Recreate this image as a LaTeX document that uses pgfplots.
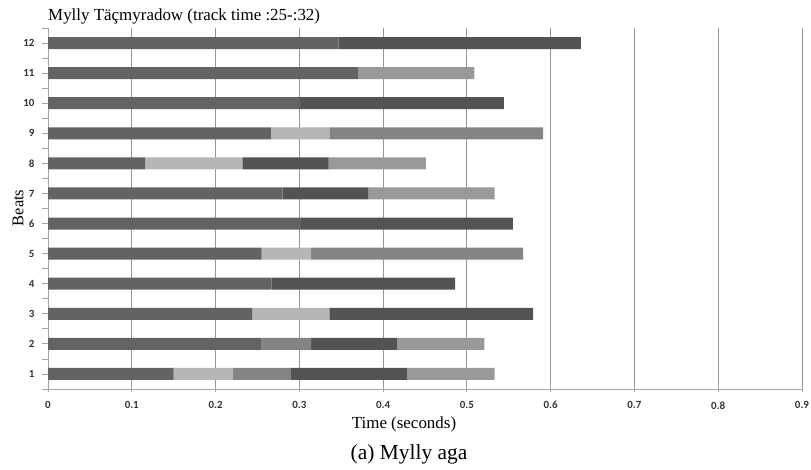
\documentclass[border=0pt]{standalone}
\usepackage{pgfplots}
\pgfplotsset{compat=1.18}
\usepackage{fontspec}
\setmainfont{Liberation Serif}
\newfontfamily\tickfont{Carlito}
\definecolor{sA}{RGB}{98,100,99}
\definecolor{sB}{RGB}{181,182,181}
\definecolor{sC}{RGB}{131,132,131}
\definecolor{sD}{RGB}{82,84,83}
\definecolor{sE}{RGB}{152,153,152}
\definecolor{gridc}{RGB}{150,150,150}
\definecolor{axc}{RGB}{165,165,165}
\begin{document}
\begin{tikzpicture}[x=1bp,y=1bp]
\path[use as bounding box] (0,0) rectangle (811,470);
\begin{axis}[
  at={(48bp,81bp)}, anchor=south west,
  scale only axis, width=754bp, height=361bp,
  xbar stacked, bar width=12bp,
  xmin=0, xmax=0.9, ymin=0.5, ymax=12.5,
  axis x line*=bottom, axis y line*=left,
  axis line style={draw=axc, line width=0.8bp, -},
  xtick={0,0.1,0.2,0.3,0.4,0.5,0.6,0.7,0.8,0.9},
  xticklabels={0,0.1,0.2,0.3,0.4,0.5,0.6,0.7,0.8,0.9},
  xtick align=center, major tick length=6bp,
  xtick style={draw=axc, line width=0.8bp},
  xmajorgrids, major grid style={draw=gridc, line width=1bp},
  ytick={0.5,1.5,...,12.5}, yticklabels={},
  ytick align=outside,
  ytick style={draw=axc, line width=0.8bp},
  extra y ticks={1,2,3,4,5,6,7,8,9,10,11,12},
  extra y tick style={tick style={draw=none}, grid=none},
  extra y tick labels={1,2,3,4,5,6,7,8,9,10,11,12},
  tick label style={font=\tickfont\bfseries\fontsize{11}{12}\selectfont, text=black!80},
  yticklabel style={xshift=-4bp},
  xticklabel style={yshift=-6bp},
  /pgf/number format/assume math mode=true,
  every axis plot/.append style={draw=none},
  clip=false,
]
\addplot[fill=sA] coordinates {(0.150,1) (0.255,2) (0.244,3) (0.267,4) (0.255,5) (0.302,6) (0.280,7) (0.116,8) (0.266,9) (0.301,10) (0.370,11) (0.347,12)};
\addplot[fill=sB] coordinates {(0.071,1) (0,2) (0.092,3) (0,4) (0.059,5) (0,6) (0,7) (0.116,8) (0.070,9) (0,10) (0,11) (0,12)};
\addplot[fill=sC] coordinates {(0.069,1) (0.059,2) (0,3) (0,4) (0.253,5) (0,6) (0,7) (0,8) (0.255,9) (0,10) (0,11) (0,12)};
\addplot[fill=sD] coordinates {(0.139,1) (0.103,2) (0.243,3) (0.219,4) (0,5) (0.253,6) (0.102,7) (0.103,8) (0,9) (0.243,10) (0,11) (0.289,12)};
\addplot[fill=sE] coordinates {(0.104,1) (0.104,2) (0,3) (0,4) (0,5) (0,6) (0.151,7) (0.116,8) (0,9) (0,10) (0.139,11) (0,12)};
\end{axis}
\node[anchor=base west, inner sep=0pt, font=\fontsize{17}{18}\selectfont] at (48,449) {Mylly Täçmyradow (track time :25-:32)};
\node[rotate=90, inner sep=0pt, font=\fontsize{16.5}{18}\selectfont] at (18,262) {Beats};
\node[anchor=base, inner sep=0pt, font=\fontsize{17}{19}\selectfont] at (404,41) {Time (seconds)};
\node[anchor=base, inner sep=0pt, font=\fontsize{21.5}{24}\selectfont] at (409,10) {(a) Mylly aga};
\end{tikzpicture}
\end{document}
